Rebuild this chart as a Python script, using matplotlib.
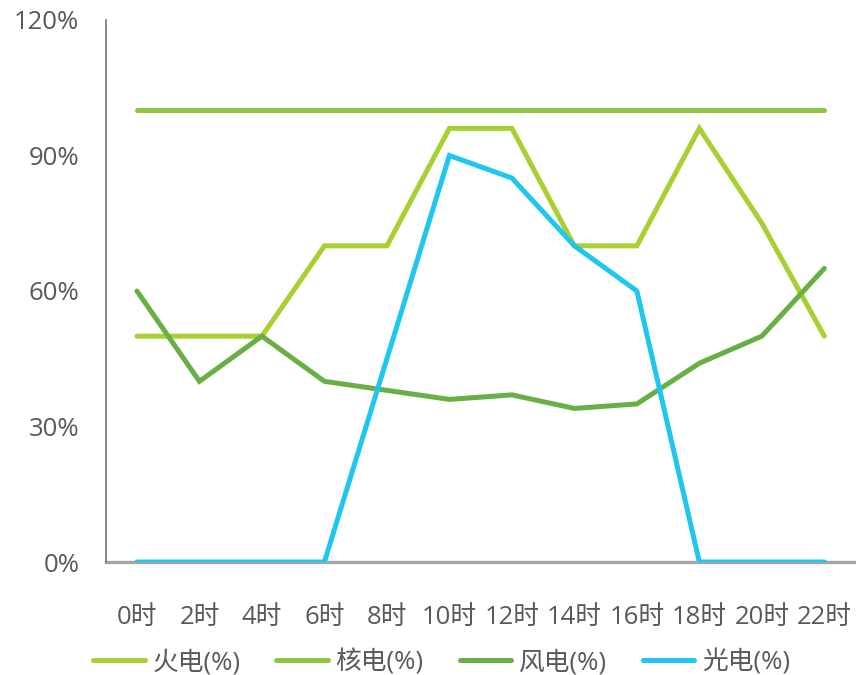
import matplotlib
matplotlib.use('Agg')
import matplotlib.pyplot as plt
from matplotlib.ticker import FuncFormatter

plt.rcParams['font.family'] = ['Open Sans', 'Noto Sans CJK SC', 'DejaVu Sans']

hours = ['0时', '2时', '4时', '6时', '8时', '10时', '12时', '14时', '16时', '18时', '20时', '22时']
thermal = [50, 50, 50, 70, 70, 96, 96, 70, 70, 96, 75, 50]
nuclear = [100, 100, 100, 100, 100, 100, 100, 100, 100, 100, 100, 100]
wind = [60, 40, 50, 40, 38, 36, 37, 34, 35, 44, 50, 65]
solar = [0, 0, 0, 0, 45, 90, 85, 70, 60, 0, 0, 0]

series = [
    ('火电(%)', thermal, '#A8D032'),
    ('核电(%)', nuclear, '#8DC73F'),
    ('风电(%)', wind, '#68AF45'),
    ('光电(%)', solar, '#1FC7EF'),
]

fig = plt.figure(figsize=(8.56, 6.75), dpi=100)
ax = fig.add_axes([0.1235, 0.1674, 0.876, 0.803])

x = list(range(len(hours)))
for name, vals, color in series:
    ax.plot(x, vals, color=color, linewidth=3.6, label=name,
            solid_capstyle='round', solid_joinstyle='miter')

ax.set_xlim(-0.5, len(hours) - 0.5)
ax.set_ylim(0, 120)
ax.set_yticks([0, 30, 60, 90, 120])
ax.yaxis.set_major_formatter(FuncFormatter(lambda v, p: f'{int(v)}%'))
ax.set_xticks(x)
ax.set_xticklabels(hours)

ax.tick_params(axis='both', length=0, labelsize=18.5, labelcolor='#595959')
ax.tick_params(axis='x', pad=31)
ax.tick_params(axis='y', pad=19)

for s in ['top', 'right']:
    ax.spines[s].set_visible(False)
ax.spines['left'].set_color('#808080')
ax.spines['left'].set_linewidth(1.3)
ax.spines['bottom'].set_color('#A6A6A6')
ax.spines['bottom'].set_linewidth(2.4)
ax.spines['bottom'].set_zorder(0.5)

leg = fig.legend(loc='center', bbox_to_anchor=(0.516, 0.019), ncol=4, frameon=False,
                 fontsize=18.5, handlelength=2.0, handletextpad=0.3, columnspacing=1.4)
for t in leg.get_texts():
    t.set_color('#595959')

fig.savefig('out.png', dpi=100)
